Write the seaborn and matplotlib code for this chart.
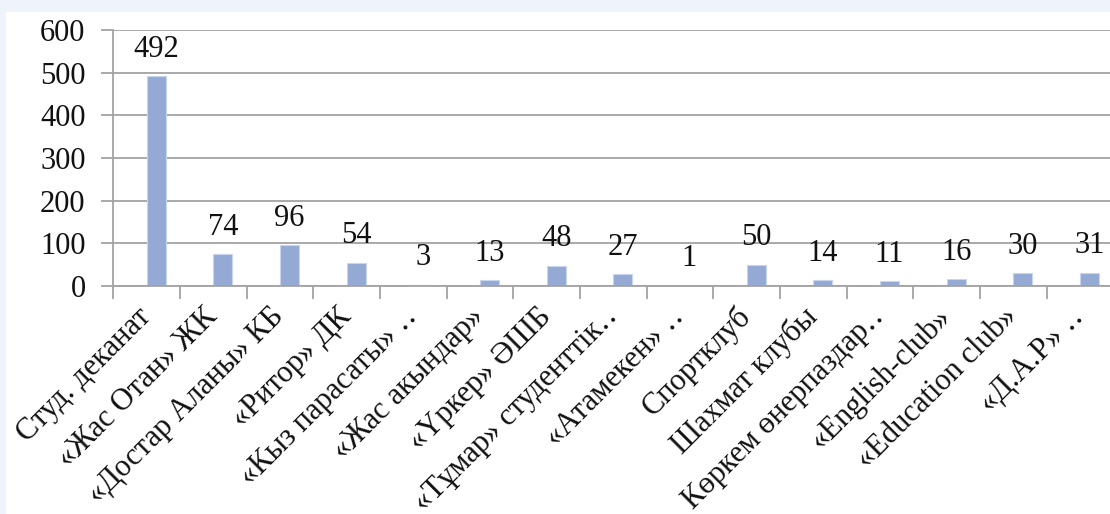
import matplotlib
matplotlib.use("Agg")
import matplotlib.pyplot as plt
import seaborn as sns
import pandas as pd
from matplotlib.patches import Rectangle

# Student clubs and their membership counts
clubs = [
    "Студ. деканат",
    "«Жас Отан» ЖК",
    "«Достар Аланы» КБ",
    "«Ритор» ДК",
    "«Кыз парасаты» ‥",
    "«Жас акындар»",
    "«Үркер» ӘШБ",
    "«Тұмар» студенттік‥",
    "«Атамекен» ‥",
    "Спортклуб",
    "Шахмат клубы",
    "Көркем өнерпаздар‥",
    "«English-club»",
    "«Education club»",
    "«Д.А.Р» ‥",
]
members = [492, 74, 96, 54, 3, 13, 48, 27, 1, 50, 14, 11, 16, 30, 31]
y_ticks = [0, 100, 200, 300, 400, 500, 600]

BAR = "#94aad4"
GRID = "#a3a3a3"
FS = 22

sns.set_theme(style="white")
plt.rcParams["font.family"] = ["Liberation Serif", "DejaVu Serif"]

W, H = 1110, 514
fig = plt.figure(figsize=(W / 100, H / 100), dpi=100)
fig.patch.set_facecolor("#eef3fc")
# white chart panel inside the light frame
fig.add_artist(Rectangle((6 / W, 0), 1, 1 - 12 / H, transform=fig.transFigure,
                         facecolor="white", edgecolor="none", zorder=-10))

ax = fig.add_axes([113.3 / W, 1 - 286 / H, 1000 / W, 256 / H])
ax.set_facecolor("none")

df = pd.DataFrame({"club": clubs, "members": members})
sns.barplot(data=df, x="club", y="members", order=clubs, color=BAR,
            saturation=1, width=0.285, errorbar=None,
            edgecolor="#c9d5ec", linewidth=0.8, ax=ax)

# bars sit just right of each category centre
for bar in ax.patches:
    bar.set_x(bar.get_x() + bar.get_width() / 2)

for cont in ax.containers:
    ax.bar_label(cont, labels=[str(v) for v in members], padding=9,
                 fontsize=FS, color="#111111")

ax.set_xlim(-0.5, len(clubs) - 0.5)
ax.set_ylim(0, 600)
ax.set_yticks(y_ticks)
ax.set_xlabel("")
ax.set_ylabel("")

ax.yaxis.grid(True, color=GRID, linewidth=1.3)
ax.set_axisbelow(True)
for side in ("top", "right"):
    ax.spines[side].set_visible(False)
for side in ("left", "bottom"):
    ax.spines[side].set_color(GRID)
    ax.spines[side].set_linewidth(1.3)

ax.tick_params(axis="y", which="major", direction="out", length=9, width=1.3,
               color=GRID, labelsize=FS, pad=11, labelcolor="#111111", left=True)

# category boundaries carry the x tick marks
ax.set_xticks([i - 0.5 for i in range(len(clubs) + 1)], minor=True)
ax.tick_params(axis="x", which="minor", direction="out", length=9, width=1.3,
               color=GRID, bottom=True)
ax.tick_params(axis="x", which="major", length=0, pad=19, labelsize=FS,
               labelcolor="#111111")
ax.set_xticks(range(len(clubs)))
ax.set_xticklabels(clubs, rotation=45, ha="right", rotation_mode="anchor",
                   va="center")

fig.savefig("out.png", dpi=100, facecolor=fig.get_facecolor())
